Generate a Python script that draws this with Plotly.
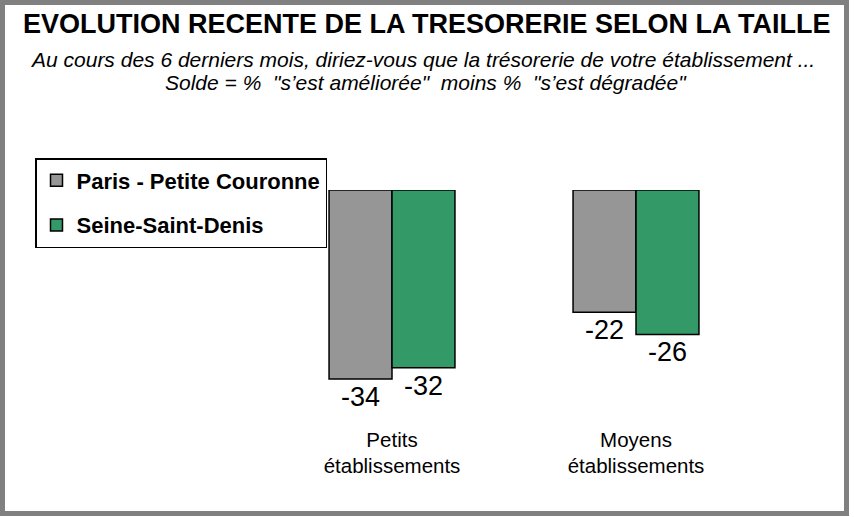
import plotly.graph_objects as go

# data
categories = ["Petits<br>établissements", "Moyens<br>établissements"]
series_names = ["Paris - Petite Couronne", "Seine-Saint-Denis"]
paris_values = [-34, -22]
ssd_values = [-32, -26]
colors = ["#969696", "#339966"]

W, H = 854, 517
# plot area in pixels
L, R, T, B = 270, 758, 190, 425


def px_x(p):
    return (p - L) / (R - L)


def px_y(p):
    return (B - p) / (B - T)


FONT = "Liberation Sans, Arial, sans-serif"

fig = go.Figure()
for name, vals, col in zip(series_names, [paris_values, ssd_values], colors):
    fig.add_trace(go.Bar(
        x=categories, y=vals, name="<b>" + name + "</b>", legendgroup=name,
        marker=dict(color=col, line=dict(color="black", width=1.5)),
        text=[str(v) for v in vals], textposition="outside",
        textfont=dict(size=27, color="black", family=FONT),
        cliponaxis=False,
    ))

fig.update_layout(
    width=W, height=H,
    margin=dict(l=L, r=W - R, t=T, b=H - B),
    paper_bgcolor="white", plot_bgcolor="white",
    font=dict(family=FONT, color="black"),
    barmode="group", bargap=0.484, bargroupgap=0,
    showlegend=True,
    legend=dict(
        x=px_x(35), y=px_y(158), xanchor="left", yanchor="top",
        bgcolor="white", bordercolor="black", borderwidth=1.5,
        font=dict(size=22, family=FONT, color="black"),
        traceorder="grouped", tracegroupgap=13,
    ),
    xaxis=dict(showgrid=False, showline=False, zeroline=False, ticks="",
               tickfont=dict(size=20.5, color="black", family=FONT)),
    yaxis=dict(visible=False, range=[-42.3, 0]),
)

fig.add_annotation(
    x=px_x(427), y=px_y(24), xref="paper", yref="paper", showarrow=False,
    text="<b>EVOLUTION RECENTE DE LA TRESORERIE SELON LA TAILLE</b>",
    font=dict(size=27, family=FONT, color="black"), xanchor="center", yanchor="middle",
)
subtitle = [
    ("Au cours des 6 derniers mois, diriez-vous que la trésorerie de votre établissement ...", 422, 59),
    ("Solde = %\u00a0 \"s’est améliorée\"\u00a0 moins %\u00a0 \"s’est dégradée\"", 426, 83),
]
for txt, cx, cy in subtitle:
    fig.add_annotation(
        x=px_x(cx), y=px_y(cy), xref="paper", yref="paper", showarrow=False,
        text="<i>" + txt + "</i>",
        font=dict(size=21, family=FONT, color="black"), xanchor="center", yanchor="middle",
    )

# outer frame
fig.add_shape(type="rect", xref="paper", yref="paper",
              x0=px_x(2.5), x1=px_x(846.5), y0=px_y(2.5), y1=px_y(513.5),
              line=dict(color="#808080", width=5), fillcolor="rgba(0,0,0,0)", layer="above")

fig.write_html("out.html", config={"displayModeBar": False},
               post_script="document.body.style.margin='0';")
